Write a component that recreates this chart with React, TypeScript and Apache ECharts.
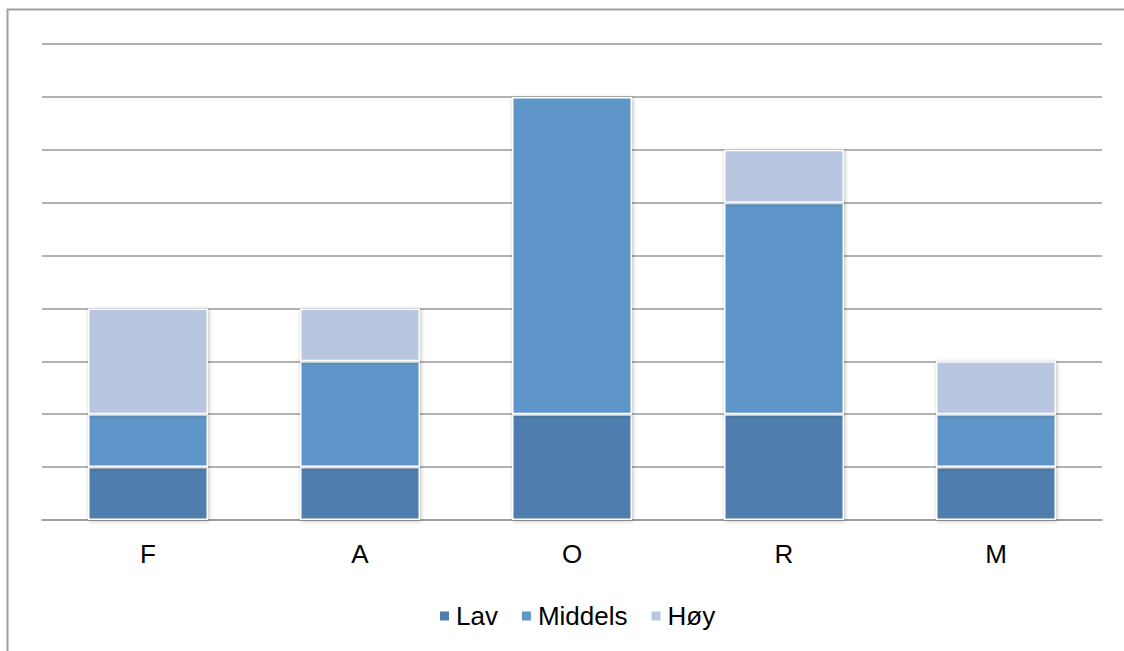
import React, { useEffect, useRef } from "react";
import * as echarts from "echarts";

const categories = ["F", "A", "O", "R", "M"];
const lav = [1, 1, 2, 2, 1];
const middels = [1, 2, 6, 4, 1];
const hoy = [2, 1, 0, 1, 1];
const seriesNames = ["Lav", "Middels", "Høy"];
const seriesColors = ["#4F7DAD", "#5F96C9", "#B8C6E0"];

export default function App() {
  const ref = useRef<HTMLDivElement>(null);

  useEffect(() => {
    if (!ref.current) return;
    const chart = echarts.init(ref.current, undefined, { renderer: "svg" });
    const values = [lav, middels, hoy];
    chart.setOption({
      animation: false,
      backgroundColor: "#ffffff",
      textStyle: { fontFamily: "Liberation Sans, Arial, sans-serif" },
      graphic: [
        {
          type: "rect",
          shape: { x: 7.5, y: 9.5, width: 1200, height: 700 },
          style: { fill: "none", stroke: "#a0a0a0", lineWidth: 2 },
          silent: true,
        },
      ],
      grid: { left: 42, right: 22, top: 44, bottom: 131 },
      legend: {
        top: 598,
        left: 433,
        itemWidth: 11,
        itemHeight: 11,
        itemGap: 22,
        icon: "rect",
        textStyle: { fontSize: 26, color: "#000", padding: [0, 0, 0, 1] },
        data: seriesNames,
      },
      xAxis: {
        type: "category",
        data: categories,
        axisTick: { show: false },
        axisLine: { lineStyle: { color: "#999999", width: 1.5 } },
        axisLabel: { fontSize: 26, color: "#000", margin: 21 },
      },
      yAxis: {
        type: "value",
        min: 0,
        max: 9,
        interval: 1,
        axisLabel: { show: false },
        axisLine: { show: false },
        axisTick: { show: false },
        splitLine: { lineStyle: { color: "#999999", width: 1.5 } },
      },
      series: seriesNames.map((name, i) => ({
        name,
        type: "bar",
        stack: "total",
        barWidth: 120,
        data: values[i],
        itemStyle: {
          color: seriesColors[i],
          borderColor: "#ffffff",
          borderWidth: 1.5,
          shadowBlur: 4,
          shadowColor: "rgba(0,0,0,0.25)",
          shadowOffsetX: 1,
          shadowOffsetY: 1,
        },
      })),
    });
    return () => chart.dispose();
  }, []);

  return (
    <div
      ref={ref}
      style={{ position: "fixed", left: 0, top: 0, width: 1124, height: 651 }}
    />
  );
}
